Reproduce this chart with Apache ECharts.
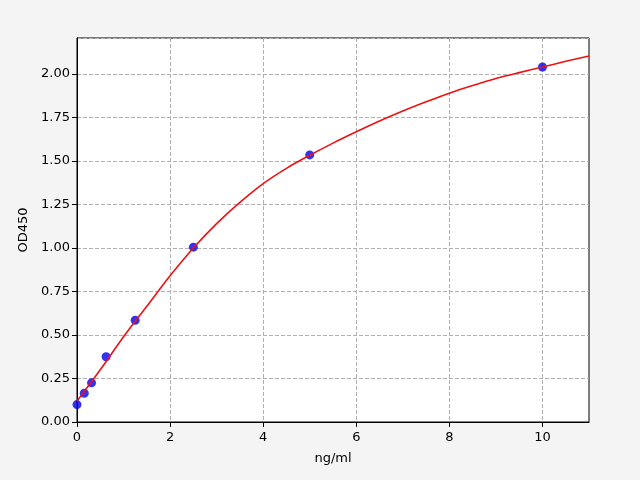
<!DOCTYPE html>
<html>
<head>
<meta charset="utf-8">
<script src="https://cdn.jsdelivr.net/npm/echarts@6/dist/echarts.min.js"></script>
<style>
  html, body { margin:0; padding:0; background:#f4f4f4; }
  #main { width:640px; height:480px; }
</style>
</head>
<body>
<div id="main"></div>
<script>
// standards (ng/ml) and measured OD450
let stdConc = [0, 0.156, 0.3125, 0.625, 1.25, 2.5, 5, 10];
let stdOD = [0.10, 0.165, 0.225, 0.375, 0.585, 1.005, 1.535, 2.04];

// fitted curve, every 0.5 ng/ml
let fitConc = [0, 0.5, 1, 1.5, 2, 2.5, 3, 3.5, 4, 4.5, 5, 5.5, 6, 6.5, 7, 7.5, 8, 8.5, 9, 9.5, 10, 10.5, 11];
let fitOD = [0.12, 0.30, 0.49, 0.665, 0.84, 1.0, 1.14, 1.262, 1.37, 1.458, 1.533, 1.603, 1.668, 1.73, 1.787, 1.84, 1.89, 1.934, 1.974, 2.008, 2.04, 2.073, 2.104];

let xTicks = [0, 2, 4, 6, 8, 10];

let chart = echarts.init(document.getElementById('main'));
let font = 'DejaVu Sans';

let option = {
  backgroundColor: '#f4f4f4',
  animation: false,
  grid: { left: 77, right: 51, top: 38, bottom: 58, show: true, backgroundColor: '#fff', borderColor: '#000', borderWidth: 1 },
  xAxis: {
    type: 'value', min: 0, max: 11, interval: 2,
    name: 'ng/ml', nameLocation: 'middle', nameGap: 30,
    nameTextStyle: { fontFamily: font, fontSize: 13, color: '#000' },
    axisLine: { show: true, onZero: false, lineStyle: { color: '#000', width: 1 } },
    axisTick: { show: true, length: 5, customValues: xTicks, lineStyle: { color: '#000' } },
    axisLabel: { fontFamily: font, fontSize: 13, color: '#000', margin: 9, customValues: xTicks },
    splitLine: { show: true, lineStyle: { color: '#b0b0b0', type: [4, 2], width: 1 } }
  },
  yAxis: {
    type: 'value', min: 0, max: 2.207, interval: 0.25,
    name: 'OD450', nameLocation: 'middle', nameGap: 47,
    nameTextStyle: { fontFamily: font, fontSize: 13, color: '#000' },
    axisLine: { show: true, onZero: false, lineStyle: { color: '#000', width: 1 } },
    axisTick: { show: true, length: 5, lineStyle: { color: '#000' } },
    axisLabel: { fontFamily: font, fontSize: 13, color: '#000', margin: 7,
      showMaxLabel: false,
      formatter: function(v){ return v.toFixed(2); } },
    splitLine: { show: true, lineStyle: { color: '#b0b0b0', type: [4, 2], width: 1 } }
  },
  series: [
    {
      type: 'scatter', name: 'std',
      data: stdConc.map(function(c, i){ return [c, stdOD[i]]; }),
      symbol: 'circle', symbolSize: 9,
      itemStyle: { color: '#0000ee' },
      z: 2, clip: false
    },
    {
      type: 'line', name: 'fit',
      data: fitConc.map(function(c, i){ return [c, fitOD[i]]; }),
      smooth: 0.3, showSymbol: false,
      lineStyle: { color: '#ee1111', width: 1.6 },
      z: 3
    }
  ]
};
chart.setOption(option);
</script>
</body>
</html>
